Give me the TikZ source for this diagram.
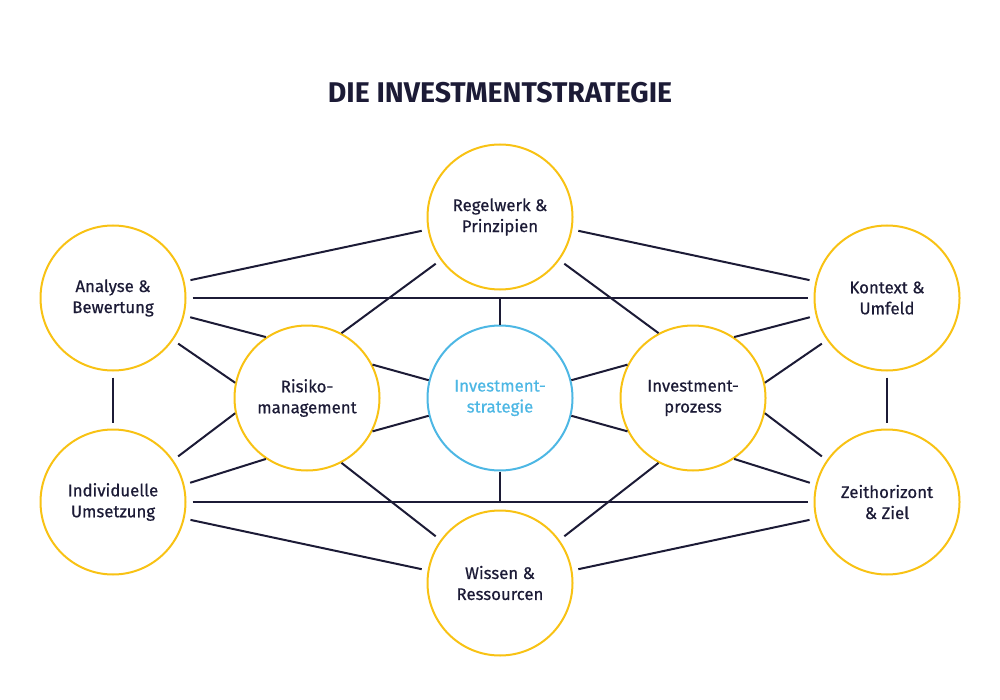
\documentclass[tikz,border=0pt]{standalone}
\usepackage{fontspec}
\setmainfont{Fira Sans}
\newfontfamily\mittel{Fira Sans}[FakeBold=0.6]
\usetikzlibrary{positioning,calc}
\definecolor{gelb}{HTML}{F8C214}
\definecolor{blau}{HTML}{4DB7E4}
\definecolor{navy}{HTML}{1C1B36}
\tikzset{
  kreis/.style={circle,draw=gelb,line width=2pt,minimum size=145pt,inner sep=0pt,
    align=center,text=navy,font=\mittel\fontsize{16.8}{21}\selectfont},
  aussen/.style={kreis,outer sep=7pt},
  linie/.style={draw=navy,line width=2pt}
}

\begin{document}
\begin{tikzpicture}[x=1pt,y=-1pt]
\useasboundingbox (0,0) rectangle (1000,700);
\node[text=navy,font=\bfseries\fontsize{28.5}{32}\selectfont] (titel) at (500,93) {DIE INVESTMENTSTRATEGIE};
% Kreise
\node[aussen] (regel) at (500,217) {Regelwerk \&\\Prinzipien};
\node[aussen] (ana) at (113,298) {Analyse \&\\Bewertung};
\node[aussen] (kon) at (887,298) {Kontext \&\\Umfeld};
\node[kreis] (risk) at (307,398) {Risiko-\\management};
\node[kreis,draw=blau,text=blau] (strat) at (500,398) {Investment-\\strategie};
\node[kreis] (proz) at (693,398) {Investment-\\prozess};
\node[aussen] (ind) at (113,502) {Individuelle\\Umsetzung};
\node[aussen] (zeit) at (887,502) {Zeithorizont\\\& Ziel};
\node[aussen] (wissen) at (500,583) {Wissen \&\\Ressourcen};
% aussen herum
\draw[linie] (ana.13) -- (regel.190);
\draw[linie] (regel.-10) -- (kon.167);
\draw[linie] (ind.-13) -- (wissen.170);
\draw[linie] (wissen.10) -- (zeit.193);
\draw[linie] (ana.south) -- (ind.north);
\draw[linie] (kon.south) -- (zeit.north);
% waagrecht, mit Strategie verbunden
\draw[linie] (ana.east) -- (kon.west);
\draw[linie] (ind.east) -- (zeit.west);
\draw[linie] (strat.north) -- (strat.north |- ana.east);
\draw[linie] (strat.south) -- (strat.south |- ind.east);
% links
\draw[linie] (ana.-14) -- (risk.124);
\draw[linie] (ana.-35) -- (risk.168);
\draw[linie] (ind.35) -- (risk.192);
\draw[linie] (ind.14) -- (risk.236);
\draw[linie] (regel.216) -- (risk.62);
\draw[linie] (wissen.144) -- (risk.-62);
\draw[linie] (risk.27) -- (strat.166);
\draw[linie] (risk.-27) -- (strat.194);
% rechts
\draw[linie] (kon.194) -- (proz.56);
\draw[linie] (kon.215) -- (proz.12);
\draw[linie] (zeit.145) -- (proz.-12);
\draw[linie] (zeit.166) -- (proz.-56);
\draw[linie] (regel.-36) -- (proz.118);
\draw[linie] (wissen.36) -- (proz.242);
\draw[linie] (proz.153) -- (strat.14);
\draw[linie] (proz.207) -- (strat.-14);
\end{tikzpicture}
\end{document}
